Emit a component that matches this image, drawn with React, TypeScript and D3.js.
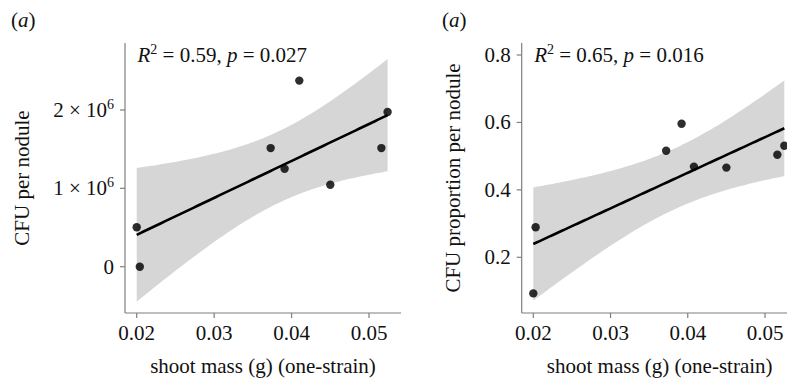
import React from "react";
import * as d3 from "d3";

// Panel 1: CFU per nodule
const massA = [0.02, 0.0204, 0.0373, 0.0391, 0.041, 0.045, 0.0516, 0.0524];
const cfuA = [0.504e6, 0, 1.514e6, 1.249e6, 2.375e6, 1.045e6, 1.514e6, 1.974e6];
// Panel 2: CFU proportion per nodule
const massB = [0.02, 0.0203, 0.0372, 0.0392, 0.0408, 0.045, 0.0516, 0.0525];
const propB = [0.093, 0.289, 0.516, 0.596, 0.469, 0.466, 0.504, 0.531];

const xTicks = [0.02, 0.03, 0.04, 0.05];
const yTicksA = [0, 1e6, 2e6];
const yTicksB = [0.2, 0.4, 0.6, 0.8];
const statsA = { r2: "0.59", p: "0.027" };
const statsB = { r2: "0.65", p: "0.016" };
const T_975_DF6 = 2.446912;

const FONT = "'Liberation Serif', 'DejaVu Serif', serif";
const FS = 21;

function fit(xs: number[], ys: number[]) {
  const n = xs.length;
  const mx = d3.mean(xs)!;
  const my = d3.mean(ys)!;
  let sxx = 0, sxy = 0;
  xs.forEach((x, i) => {
    sxx += (x - mx) ** 2;
    sxy += (x - mx) * (ys[i] - my);
  });
  const b = sxy / sxx;
  const a = my - b * mx;
  let sse = 0;
  xs.forEach((x, i) => (sse += (ys[i] - (a + b * x)) ** 2));
  const s = Math.sqrt(sse / (n - 2));
  const [x0, x1] = d3.extent(xs) as [number, number];
  const pts = d3.range(80).map((k) => {
    const x = x0 + ((x1 - x0) * k) / 79;
    const yh = a + b * x;
    const se = s * Math.sqrt(1 / n + (x - mx) ** 2 / sxx);
    return { x, y: yh, lo: yh - T_975_DF6 * se, hi: yh + T_975_DF6 * se };
  });
  return pts;
}

type PanelProps = {
  xs: number[];
  ys: number[];
  xRange: [number, number]; // pixel positions for 0.02 and 0.05
  axisX: [number, number];
  yDom: [number, number];
  yRange: [number, number];
  yTicks: number[];
  yFmt: (v: number) => React.ReactNode;
  stats: { r2: string; p: string };
  yTitle: string;
  yTitleX: number;
  labelX: number;
  clipId: string;
};

const AXIS_TOP = 43;
const AXIS_BOTTOM = 313;

function Panel(p: PanelProps) {
  const x = d3.scaleLinear().domain([0.02, 0.05]).range(p.xRange);
  const y = d3.scaleLinear().domain(p.yDom).range(p.yRange);
  const pts = fit(p.xs, p.ys);
  const area = d3
    .area<any>()
    .x((d) => x(d.x))
    .y0((d) => y(d.lo))
    .y1((d) => y(d.hi));
  const line = d3
    .line<any>()
    .x((d) => x(d.x))
    .y((d) => y(d.y));
  const ax0 = p.axisX[0];
  const axisColor = "#7f7f7f";
  return (
    <g fontFamily={FONT} fontSize={FS} fill="#111">
      <path d={area(pts)!} fill="#d6d6d6" />
      <path d={line(pts)!} fill="none" stroke="#000" strokeWidth={2.6} />
      {p.xs.map((v, i) => (
        <circle key={i} cx={x(v)} cy={y(p.ys[i])} r={4.2} fill="#000" fillOpacity={0.82} />
      ))}
      <line x1={ax0} x2={ax0} y1={AXIS_TOP} y2={AXIS_BOTTOM} stroke={axisColor} strokeWidth={1.2} />
      <line x1={ax0} x2={p.axisX[1]} y1={AXIS_BOTTOM} y2={AXIS_BOTTOM} stroke={axisColor} strokeWidth={1.2} />
      {xTicks.map((t) => (
        <g key={t}>
          <line x1={x(t)} x2={x(t)} y1={AXIS_BOTTOM} y2={AXIS_BOTTOM + 5} stroke={axisColor} strokeWidth={1.2} />
          <text x={x(t)} y={340} textAnchor="middle">{String(t)}</text>
        </g>
      ))}
      {p.yTicks.map((t) => (
        <g key={t}>
          <line x1={ax0 - 5} x2={ax0} y1={y(t)} y2={y(t)} stroke={axisColor} strokeWidth={1.2} />
          <text x={ax0 - 11} y={y(t) + 7} textAnchor="end">{p.yFmt(t)}</text>
        </g>
      ))}
      <text x={(ax0 + 401 - 125 + ax0) / 2} y={372.5} textAnchor="middle">shoot mass (g) (one-strain)</text>
      <text
        transform={`translate(${p.yTitleX},${(AXIS_TOP + AXIS_BOTTOM) / 2 + 0}) rotate(-90)`}
        textAnchor="middle"
      >
        {p.yTitle}
      </text>
      <text x={ax0 + 12.5} y={61.5}>
        <tspan fontStyle="italic">R</tspan>
        <tspan fontSize={14} dy={-8}>2</tspan>
        <tspan dy={8}>{` = ${p.stats.r2}, `}</tspan>
        <tspan fontStyle="italic">p</tspan>
        <tspan>{` = ${p.stats.p}`}</tspan>
      </text>
      <text x={p.labelX} y={26.5}>
        (<tspan fontStyle="italic">a</tspan>)
      </text>
    </g>
  );
}

const fmtA = (v: number) => {
  if (v === 0) return "0";
  const m = v / 1e6;
  return (
    <>
      {`${m} × 10`}
      <tspan fontSize={14} dy={-8}>6</tspan>
    </>
  );
};
const fmtB = (v: number) => String(v);

export default function App() {
  return (
    <svg
      width={787}
      height={381}
      style={{ position: "absolute", left: 0, top: 0, background: "#fff" }}
    >
      <rect width={787} height={381} fill="#fff" />
      <Panel
        xs={massA}
        ys={cfuA}
        xRange={[136.7, 369]}
        axisX={[125, 401]}
        yDom={[0, 2e6]}
        yRange={[266.7, 110]}
        yTicks={yTicksA}
        yFmt={fmtA}
        stats={statsA}
        yTitle="CFU per nodule"
        yTitleX={29}
        labelX={11}
        clipId="a"
      />
      <Panel
        xs={massB}
        ys={propB}
        xRange={[533.3, 765]}
        axisX={[521.7, 800]}
        yDom={[0.2, 0.8]}
        yRange={[257.3, 55]}
        yTicks={yTicksB}
        yFmt={fmtB}
        stats={statsB}
        yTitle="CFU proportion per nodule"
        yTitleX={460}
        labelX={442}
        clipId="b"
      />
    </svg>
  );
}
